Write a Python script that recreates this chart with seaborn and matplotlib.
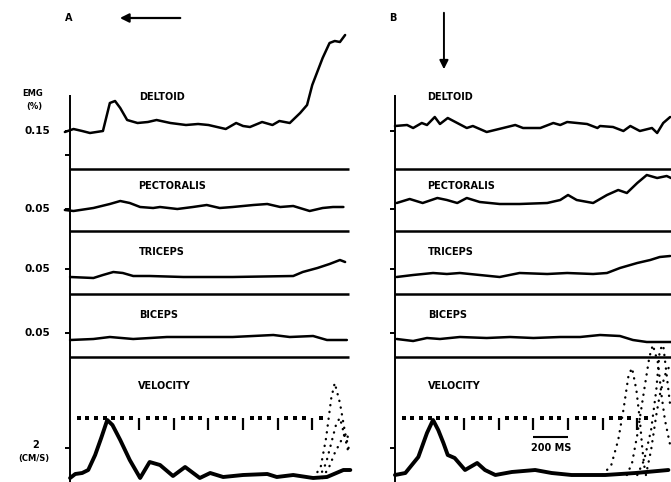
import numpy as np
import matplotlib
matplotlib.use("Agg")
import matplotlib.pyplot as plt
import seaborn as sns

sns.set_theme(style="white")
plt.rcParams["font.family"] = ["DejaVu Sans"]
plt.rcParams["text.color"] = "black"

# time in ms from start of sweep, trace values = deflection above each row baseline

# ---- panel A ----
a_delt_t = [-30, 20, 70, 115, 190, 230, 260, 290, 330, 390, 450, 500, 580, 670, 740, 800, 900, 960, 1000, 1040,
            1110, 1170, 1210, 1270, 1330, 1370, 1400, 1460, 1500, 1530, 1560, 1590]
a_delt_v = [-1, 2, 0, -2, 0, 28, 30, 23, 11, 8, 9, 11, 8, 6, 7, 6, 2, 8, 5, 4,
            9, 6, 10, 8, 18, 26, 46, 73, 88, 90, 89, 96]
a_pect_t = [-30, 20, 135, 230, 290, 345, 405, 480, 520, 620, 710, 790, 865, 940, 1060, 1140, 1215, 1290, 1385, 1460,
            1520, 1580]
a_pect_v = [-1, -2, 1, 5, 8, 6, 2, 1, 2, 0, 2, 4, 1, 2, 4, 5, 2, 3, -2, 1, 2, 2]
a_tric_t = [0, 135, 190, 250, 305, 365, 460, 655, 940, 1290, 1345, 1430, 1500, 1560, 1590]
a_tric_v = [0, -1, 2, 5, 4, 1, 1, 0, 0, 1, 5, 9, 13, 17, 15]
a_bic_t = [0, 135, 230, 365, 560, 750, 940, 1175, 1270, 1405, 1485, 1600]
a_bic_v = [0, 1, 3, 1, 3, 3, 3, 5, 3, 4, 0, 0]
a_vel_t = [0, 30, 70, 105, 145, 180, 215, 245, 290, 345, 405, 460, 520, 595, 665, 750, 810, 885, 1000, 1140,
           1195, 1290, 1405, 1485, 1580, 1620]
a_vel_v = [0, 4, 5, 8, 23, 40, 58, 53, 38, 18, 0, 16, 13, 2, 11, 0, 5, 1, 3, 4, 1, 3, 0, 1, 8, 8]
a_trials = [
    ([1410, 1450, 1480, 1510, 1530, 1560, 1590, 1610], [0, 12, 40, 80, 95, 75, 45, 30]),
    ([1440, 1480, 1510, 1540, 1560, 1590, 1610], [0, 15, 35, 55, 60, 40, 25]),
    ([1460, 1500, 1530, 1560, 1590, 1610], [0, 12, 25, 35, 45, 40]),
]

# ---- panel B ----
b_delt_t = [0, 70, 105, 155, 185, 230, 260, 305, 360, 415, 450, 530, 625, 695, 740, 840, 915, 955, 995, 1110,
            1170, 1185, 1260, 1320, 1360, 1415, 1485, 1515, 1550, 1590]
b_delt_v = [5, 6, 3, 8, 6, 14, 7, 13, 8, 3, 5, -1, 3, 6, 3, 3, 8, 6, 9, 7,
            3, 5, 4, 0, 5, 0, 3, -2, 8, 14]
b_pect_t = [10, 85, 160, 245, 300, 360, 415, 490, 605, 720, 880, 955, 1000, 1050, 1145, 1225, 1290, 1340, 1400, 1455,
            1515, 1570, 1595]
b_pect_v = [6, 10, 6, 11, 9, 6, 11, 7, 5, 5, 6, 9, 14, 9, 6, 14, 19, 16, 26, 34, 31, 33, 31]
b_tric_t = [10, 105, 220, 300, 375, 490, 605, 720, 880, 995, 1145, 1225, 1300, 1400, 1475, 1530, 1590]
b_tric_v = [0, 2, 4, 3, 4, 2, 0, 4, 3, 4, 3, 4, 9, 14, 17, 20, 21]
b_bic_t = [10, 105, 185, 260, 375, 530, 665, 800, 955, 1070, 1185, 1300, 1375, 1455, 1595]
b_bic_v = [1, -1, 2, 1, 3, 2, 3, 2, 3, 3, 5, 4, 0, -2, -2]
b_vel_t = [0, 60, 135, 185, 220, 250, 280, 305, 345, 405, 475, 520, 580, 675, 810, 905, 1020, 1215, 1390, 1580]
b_vel_v = [3, 5, 21, 45, 58, 48, 35, 23, 20, 8, 15, 8, 3, 6, 8, 5, 3, 3, 5, 8]
b_trials = [
    ([1200, 1250, 1290, 1320, 1350, 1370, 1395, 1415, 1430, 1445], [3, 13, 38, 68, 103, 110, 88, 58, 28, 6]),
    ([1340, 1370, 1400, 1440, 1470, 1490, 1520, 1540, 1560, 1590], [3, 15, 43, 88, 121, 133, 115, 83, 58, 33]),
    ([1400, 1440, 1480, 1510, 1530, 1550, 1570, 1590], [3, 18, 48, 88, 128, 133, 103, 73]),
    ([1450, 1480, 1510, 1530, 1560, 1590], [3, 28, 63, 83, 103, 113]),
]

muscles = ["DELTOID", "PECTORALIS", "TRICEPS", "BICEPS"]
emg_scale = ["0.15", "0.05", "0.05", "0.05"]
time_marks = [400, 600, 800, 1000, 1200, 1400]

# layout (vertical positions in plot units, 0 = bottom)
base = {"DELTOID": 351, "PECTORALIS": 273, "TRICEPS": 205, "BICEPS": 142, "VELOCITY": 4}
tick_y = {"DELTOID": 351, "PECTORALIS": 273, "TRICEPS": 213, "BICEPS": 149}
separators = [313, 251, 188, 125]
axis_top = 387
vel_tick = 34
marker_y = 64

fig = plt.figure(figsize=(6.71, 4.82), dpi=100)
axA = fig.add_axes([0, 0, 360 / 671, 1])
axB = fig.add_axes([360 / 671, 0, 311 / 671, 1])
axA.set_xlim(-405, 1676)
axB.set_xlim(-202, 1595)

panels = [
    (axA, "A", [(a_delt_t, a_delt_v), (a_pect_t, a_pect_v), (a_tric_t, a_tric_v), (a_bic_t, a_bic_v)],
     (a_vel_t, a_vel_v), a_trials, 1610, {"DELTOID": 399, "PECTORALIS": 393, "TRICEPS": 399, "BICEPS": 399, "VELOCITY": 393}),
    (axB, "B", [(b_delt_t, b_delt_v), (b_pect_t, b_pect_v), (b_tric_t, b_tric_v), (b_bic_t, b_bic_v)],
     (b_vel_t, b_vel_v), b_trials, 1600, {"DELTOID": 185, "PECTORALIS": 185, "TRICEPS": 191, "BICEPS": 191, "VELOCITY": 191}),
]
label_y = {"DELTOID": 385, "PECTORALIS": 296, "TRICEPS": 230, "BICEPS": 167, "VELOCITY": 96}

for ax, letter, traces, vel, trials, t_end, label_x in panels:
    ax.set_ylim(0, 482)
    ax.axis("off")
    # vertical axis + ticks
    ax.vlines(0, 0, axis_top, color="black", lw=1.4)
    ticks = list(tick_y.values()) + [vel_tick]
    if letter == "A":
        ticks.append(327)
    ax.hlines(ticks, -29, 0, color="black", lw=1.4)
    # separator lines
    ax.hlines(separators, 0, t_end, color="black", lw=1.8)
    # emg traces
    for name, (t, v) in zip(muscles, traces):
        sns.lineplot(x=t, y=np.array(v) + base[name], ax=ax, color="black", lw=1.8, estimator=None)
        ax.text(label_x[name], label_y[name], name, fontsize=7, fontweight="bold", va="center", ha="left")
    ax.text(label_x["VELOCITY"], label_y["VELOCITY"], "VELOCITY", fontsize=7, fontweight="bold",
            va="center", ha="left")
    # time marker: dots every 50 ms and ticks every 200 ms
    dots = [d for d in range(50, 1500, 50) if d not in time_marks]
    sns.scatterplot(x=dots, y=[marker_y] * len(dots), ax=ax, color="black", marker="s", s=6, linewidth=0)
    ax.vlines(time_marks, marker_y - 12, marker_y, color="black", lw=1.6)
    # velocity (several trials overlaid) and the dotted late trials
    sns.lineplot(x=vel[0], y=np.array(vel[1]) + base["VELOCITY"], ax=ax, color="black", lw=2.8, estimator=None)
    for t, v in trials:
        sns.lineplot(x=t, y=np.array(v) + base["VELOCITY"], ax=ax, color="black", lw=1.7, estimator=None,
                     linestyle=(0, (0.1, 2.8)), dash_capstyle="round")

# panel letters and arrows
axA.text(-10, 464, "A", fontsize=7, fontweight="bold", ha="center", va="center")
axB.text(-15, 464, "B", fontsize=7, fontweight="bold", ha="center", va="center")
axA.annotate("", xy=(272, 464), xytext=(653, 464),
             arrowprops=dict(arrowstyle="-|>", color="black", lw=1.6, mutation_scale=13))
axB.annotate("", xy=(283, 410), xytext=(283, 472),
             arrowprops=dict(arrowstyle="-|>", color="black", lw=1.4, mutation_scale=13))

# scale labels on panel A
axA.text(-214, 388, "EMG", fontsize=6, fontweight="bold", ha="center", va="center")
axA.text(-208, 376, "(%)", fontsize=6, fontweight="bold", ha="center", va="center")
for name, lab in zip(muscles, emg_scale):
    axA.text(-116, tick_y[name], lab, fontsize=7.5, fontweight="bold", ha="right", va="center")
axA.text(-197, 37, "2", fontsize=7, fontweight="bold", ha="center", va="center")
axA.text(-208, 23, "(CM/S)", fontsize=6, fontweight="bold", ha="center", va="center")

# 200 ms calibration bar
axB.hlines(45, 800, 1000, color="black", lw=1.5)
axB.text(900, 34, "200 MS", fontsize=7, fontweight="bold", ha="center", va="center")

fig.savefig("out.png", dpi=100)
